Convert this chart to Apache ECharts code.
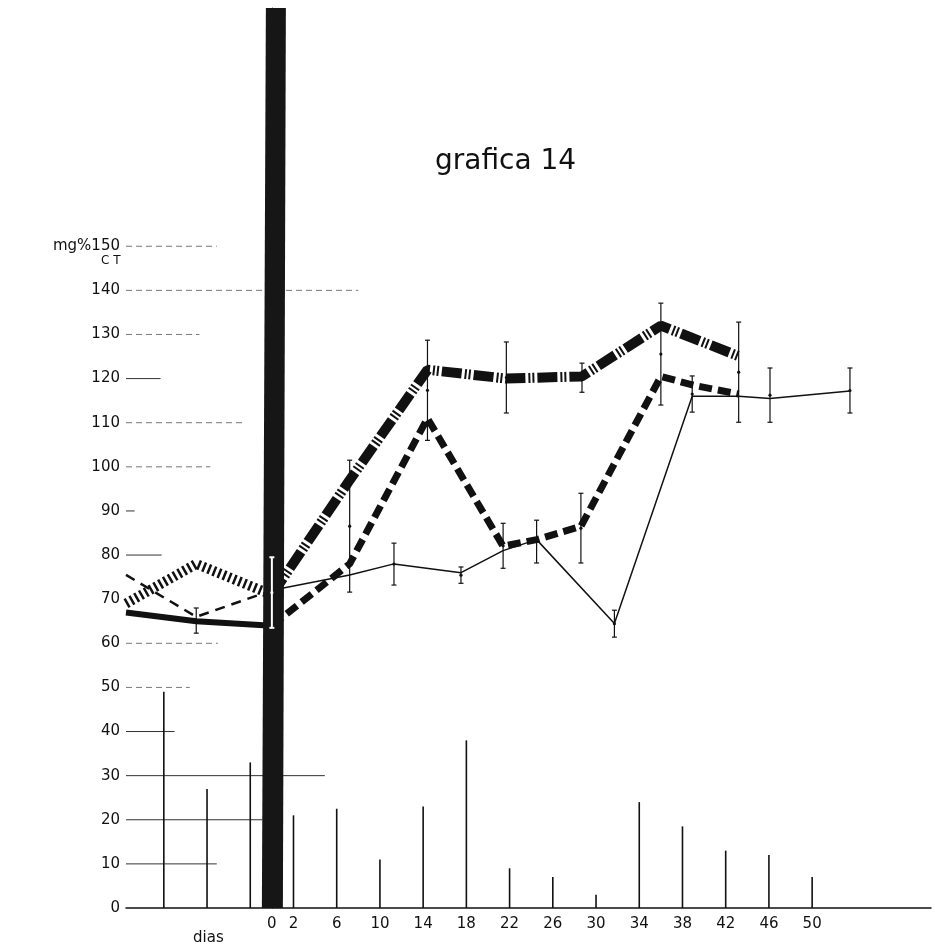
<!DOCTYPE html>
<html><head><meta charset="utf-8">
<script src="https://cdn.jsdelivr.net/npm/echarts@6/dist/echarts.min.js"></script>
<style>html,body{margin:0;padding:0;background:#fff}#c{width:935px;height:952px}</style>
</head><body><div id="c"></div>
<script>
// ---- data ----
const preDays = [-13.5, -7, 0];
const preHatched = [69, 78, 71];
const preLongDash = [75.5, 66, 72];
const preThick = [67, 65, 64];

const dashDotDays = [0, 7.2, 14.4, 21.7, 28.7, 36, 43.3];
const dashDotVals = [71, 97, 122, 120, 120.5, 132, 125];
const dashedDays = [0, 7.2, 14.4, 21.4, 24.5, 28.6, 36, 39, 43.2];
const dashedVals = [64, 78, 111, 82, 83.5, 86.5, 120.5, 118.5, 116.5];
const thinDays = [0, 7.2, 11.3, 17.5, 21.4, 24.5, 31.7, 38.9, 43.2, 46.1, 53.5];
const thinVals = [72, 75.5, 78, 76, 81, 83.5, 64.5, 116, 116, 115.5, 117.2];

const errDays = [-7, 0, 7.2, 11.3, 14.4, 17.5, 21.4, 21.7, 24.5, 28.6, 28.7, 31.7, 36, 38.9, 43.2, 46.1, 53.5];
const errLow  = [62.3, 63.5, 71.6, 73.2, 106, 73.6, 77, 112.2, 78.2, 78.2, 116.9, 61.4, 114, 112.4, 110.1, 110.1, 112.2];
const errHigh = [68, 79.5, 101.5, 82.7, 128.7, 77.3, 87.2, 128.3, 87.9, 94, 123.5, 67.5, 137.1, 120.6, 132.8, 122.4, 122.4];

const barDays = [-10, -6, -2, 2, 6, 10, 14, 18, 22, 26, 30, 34, 38, 42, 46, 50];
const barVals = [49, 27, 33, 21, 22.5, 11, 23, 38, 9, 7, 3, 24, 18.5, 13, 12, 7];

const treatmentDay = [0];

const xTickDays = [0, 2, 6, 10, 14, 18, 22, 26, 30, 34, 38, 42, 46, 50];
const yTickVals = [0, 10, 20, 30, 40, 50, 60, 70, 80, 90, 100, 110, 120, 130, 140, 150];
const yTickLabels = ['0', '10', '20', '30', '40', '50', '60', '70', '80', '90', '100', '110', '120', '130', '140', 'mg%150'];

// partial hand-drawn grid lines: level and the day where each stops
const solidGridLevels = [10, 20, 30, 40, 80, 90, 120];
const solidGridEnds = [-5.1, -0.9, 4.9, -9, -10.2, -12.7, -10.3];
const faintGridLevels = [50, 60, 100, 110, 130, 140, 150];
const faintGridEnds = [-7.6, -5, -5.7, -2.7, -6.7, 8, -5.1];

// ---- chart ----
const X_MIN = -13.5, X_MAX = 61, Y_MAX = 204;
const FONT = "'DejaVu Sans', sans-serif";
const INK = '#111';
const zip = (a, b) => a.map((v, i) => [v, b[i]]);

function gridRender(color, dash) {
  return function (params, api) {
    const lvl = api.value(0), end = api.value(1);
    const p1 = api.coord([X_MIN, lvl]);
    const p2 = api.coord([end, lvl]);
    return { type: 'line', shape: { x1: p1[0], y1: p1[1], x2: p2[0], y2: p2[1] },
      style: { stroke: color, lineWidth: 1, lineDash: dash } };
  };
}

const chart = echarts.init(document.getElementById('c'), null, { renderer: 'canvas' });
chart.setOption({
  backgroundColor: '#fff',
  animation: false,
  title: { text: 'grafica 14', left: 430, top: 143,
    textStyle: { fontSize: 28, fontWeight: 'normal', color: INK, fontFamily: FONT } },
  graphic: [
    { type: 'text', left: 101, top: 255, style: { text: 'C T', fontSize: 12, fill: INK, fontFamily: FONT } },
    { type: 'text', left: 193, top: 931, style: { text: 'dias', fontSize: 15, fill: INK, fontFamily: FONT } }
  ],
  grid: { left: 126, right: 4, top: 8, bottom: 44 },
  xAxis: {
    type: 'value', min: X_MIN, max: X_MAX,
    axisLine: { show: true, lineStyle: { color: INK, width: 1.5 } },
    axisTick: { show: false },
    splitLine: { show: false },
    axisLabel: { customValues: xTickDays, color: INK, fontSize: 15, margin: 9, fontFamily: FONT }
  },
  yAxis: {
    type: 'value', min: 0, max: Y_MAX,
    axisLine: { show: true, lineStyle: { color: '#333', width: 1.2 } },
    axisTick: { show: false },
    splitLine: { show: false },
    axisLabel: {
      customValues: yTickVals, color: INK, fontSize: 15, margin: 6, fontFamily: FONT,
      formatter: v => yTickLabels[yTickVals.indexOf(v)]
    }
  },
  series: [
    { type: 'custom', name: 'grid-solid', z: 1, renderItem: gridRender('#333', null),
      data: zip(solidGridLevels, solidGridEnds), encode: { x: 1, y: 0 }, silent: true },
    { type: 'custom', name: 'grid-faint', z: 1, renderItem: gridRender('#777', [6, 4]),
      data: zip(faintGridLevels, faintGridEnds), encode: { x: 1, y: 0 }, silent: true },
    { type: 'bar', name: 'bars', z: 2, barWidth: 1.6, itemStyle: { color: INK },
      data: zip(barDays, barVals) },
    // before treatment
    { type: 'line', name: 'pre-hatched', z: 3, showSymbol: false, data: zip(preDays, preHatched),
      lineStyle: { color: INK, width: 10, type: [2.5, 3], cap: 'butt' } },
    { type: 'line', name: 'pre-longdash', z: 3, showSymbol: false, data: zip(preDays, preLongDash),
      lineStyle: { color: INK, width: 2.5, type: [10, 7], cap: 'butt' } },
    { type: 'line', name: 'pre-thick', z: 3, showSymbol: false, data: zip(preDays, preThick),
      lineStyle: { color: INK, width: 6, cap: 'butt' } },
    // after treatment
    { type: 'line', name: 'dashdot', z: 3, showSymbol: false, data: zip(dashDotDays, dashDotVals),
      lineStyle: { color: INK, width: 10, type: [20, 3, 2, 2, 2, 3], cap: 'butt' } },
    { type: 'line', name: 'dashed', z: 3, showSymbol: false, data: zip(dashedDays, dashedVals),
      lineStyle: { color: INK, width: 7, type: [13, 6], cap: 'butt' } },
    { type: 'line', name: 'thin', z: 3, showSymbol: false, data: zip(thinDays, thinVals),
      lineStyle: { color: INK, width: 1.5 } },
    // treatment bar at day 0
    { type: 'custom', name: 'treatment', z: 5, silent: true,
      data: treatmentDay.map(d => [d, 0]), encode: { x: 0, y: 1 },
      renderItem: function (params, api) {
        const b = api.coord([api.value(0), 0]);
        const t = api.coord([api.value(0), Y_MAX]);
        return { type: 'polygon',
          shape: { points: [[b[0] - 10, b[1]], [b[0] + 11, b[1]], [t[0] + 14, t[1]], [t[0] - 6, t[1]]] },
          style: { fill: '#161616' } };
      } },
    // error bars
    { type: 'custom', name: 'errors', z: 6, silent: true,
      data: errDays.map((d, i) => [d, errLow[i], errHigh[i]]), encode: { x: 0, y: [1, 2] },
      renderItem: function (params, api) {
        const d = api.value(0);
        const p1 = api.coord([d, api.value(1)]);
        const p2 = api.coord([d, api.value(2)]);
        const onBar = treatmentDay.indexOf(d) >= 0;
        const col = onBar ? '#fff' : INK;
        const lw = onBar ? 2 : 1.2;
        const cap = (p) => ({ type: 'line', shape: { x1: p[0] - 2.5, y1: p[1], x2: p[0] + 2.5, y2: p[1] },
          style: { stroke: col, lineWidth: lw } });
        const mid = [(p1[0] + p2[0]) / 2, (p1[1] + p2[1]) / 2];
        return { type: 'group', children: [
          { type: 'line', shape: { x1: p1[0], y1: p1[1], x2: p2[0], y2: p2[1] }, style: { stroke: col, lineWidth: lw } },
          cap(p1), cap(p2),
          { type: 'circle', shape: { cx: mid[0], cy: mid[1], r: 1.6 }, style: { fill: col } }
        ] };
      } }
  ]
});
</script></body></html>
